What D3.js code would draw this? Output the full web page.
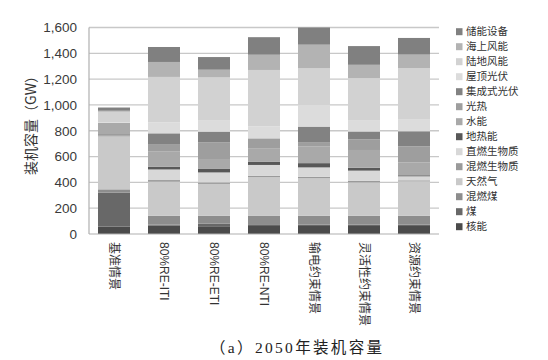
<!DOCTYPE html>
<html><head><meta charset="utf-8">
<script src="https://cdn.jsdelivr.net/npm/d3@7"></script>
<style>
html,body{margin:0;padding:0;background:#fff;}
svg{display:block;}
</style></head>
<body>
<svg id="c" width="548" height="360"></svg>
<script>
// ---- data ----
const categories = ["基准情景","80%RE-ITI","80%RE-ETI","80%RE-NTI","输电约束情景","灵活性约束情景","资源约束情景"];
const seriesNames = ["核能","煤","混燃煤","天然气","混燃生物质","直燃生物质","地热能","水能","光热","集成式光伏","屋顶光伏","陆地风能","海上风能","储能设备"];
const nuclear      = [57, 65, 60, 62, 62, 62, 62];
const coal         = [263, 8, 20, 8, 10, 10, 10];
const cofireCoal   = [26, 69, 62, 70, 70, 70, 70];
const gas          = [410, 263, 246, 300, 290, 258, 266];
const cofireBio    = [5, 13, 12, 10, 12, 13, 8];
const directBio    = [3, 82, 77, 85, 72, 78, 31];
const geothermal   = [8, 22, 27, 26, 33, 23, 8];
const hydro        = [90, 116, 77, 100, 128, 137, 100];
const csp          = [0, 59, 128, 80, 31, 83, 124];
const bipv         = [0, 83, 84, 0, 124, 60, 117];
const rooftopPV    = [5, 85, 90, 93, 168, 84, 90];
const onshoreWind  = [80, 352, 330, 437, 284, 330, 400];
const offshoreWind = [8, 116, 60, 118, 183, 103, 104];
const storage      = [25, 116, 98, 136, 133, 145, 129];
const yTicks = [0, 200, 400, 600, 800, 1000, 1200, 1400, 1600];
const yTitle = "装机容量（GW）";
const caption = "（a）2050年装机容量";

const seriesValues = [nuclear, coal, cofireCoal, gas, cofireBio, directBio, geothermal, hydro, csp, bipv, rooftopPV, onshoreWind, offshoreWind, storage];
const colors = ["#4b4b4b","#686868","#8d8d8d","#c9c9c9","#9a9a9a","#d8d8d8","#585858","#a9a9a9","#9e9e9e","#828282","#dcdcdc","#d2d2d2","#b3b3b3","#808080"];

// ---- build table ----
const table = categories.map((c, i) => {
  const row = {cat: c};
  seriesNames.forEach((s, j) => row[s] = seriesValues[j][i]);
  return row;
});
const stacked = d3.stack().keys(seriesNames)(table);

const svg = d3.select("#c");
const pL = 89, pR = 439, pT = 27.5, pB = 234;
const x = d3.scaleBand().domain(categories).range([pL, pR]).paddingInner(0.36).paddingOuter(0.18);
const y = d3.scaleLinear().domain([0, 1600]).range([pB, pT]);
const color = d3.scaleOrdinal().domain(seriesNames).range(colors);

const latin = "'Liberation Sans', Arial, 'Noto Sans CJK SC', sans-serif";

// gridlines
svg.append("g").selectAll("line").data(yTicks.filter(d => d > 0)).join("line")
  .attr("x1", pL).attr("x2", pR)
  .attr("y1", d => y(d)).attr("y2", d => y(d))
  .attr("stroke", "#c8c8c8").attr("stroke-width", 1.3);

// bars
svg.append("g").selectAll("g").data(stacked).join("g")
  .attr("fill", d => color(d.key))
  .selectAll("rect").data(d => d).join("rect")
  .attr("x", d => x(d.data.cat))
  .attr("width", x.bandwidth())
  .attr("y", d => y(d[1]))
  .attr("height", d => Math.max(0, y(d[0]) - y(d[1])));

// axes frame
svg.append("line").attr("x1", pL).attr("x2", pL).attr("y1", pT).attr("y2", pB)
  .attr("stroke", "#b0b0b0").attr("stroke-width", 1.2);
svg.append("line").attr("x1", pL).attr("x2", pR).attr("y1", pB).attr("y2", pB)
  .attr("stroke", "#b0b0b0").attr("stroke-width", 1.2);

// y axis labels
const yAxis = d3.axisLeft(y).tickValues(yTicks).tickFormat(d3.format(",")).tickSize(0).tickPadding(12);
const gy = svg.append("g").attr("transform", `translate(${pL},0)`).call(yAxis);
gy.select(".domain").remove();
gy.selectAll("text").attr("font-family", latin).attr("font-size", 13.5).attr("fill", "#3a3a3a");

// x axis labels (rotated)
const xAxis = d3.axisBottom(x).tickSize(0).tickPadding(0);
const gx = svg.append("g").attr("transform", `translate(0,${pB})`).call(xAxis);
gx.select(".domain").remove();
gx.selectAll("text")
  .attr("font-family", latin).attr("font-size", 12).attr("fill", "#333")
  .attr("text-anchor", "start").attr("dy", "0.35em")
  .attr("transform", "translate(0,8) rotate(90)")
  .attr("x", 0).attr("y", 0);

// y title
svg.append("text").attr("transform", "translate(31,122) rotate(-90)")
  .attr("text-anchor", "middle").attr("dy", "0.35em")
  .attr("font-family", "'Noto Sans CJK SC', sans-serif").attr("font-size", 14).attr("fill", "#333")
  .text(yTitle);

// legend (top = 储能设备)
const legendItems = seriesNames.slice().reverse();
const lg = svg.append("g").selectAll("g").data(legendItems).join("g")
  .attr("transform", (d, i) => `translate(456,${31.7 + i * 15})`);
lg.append("rect").attr("x", 0).attr("y", -3.5).attr("width", 6.5).attr("height", 7).attr("fill", d => color(d));
lg.append("text").attr("x", 10).attr("dy", "0.35em")
  .attr("font-family", "'Noto Sans CJK SC', sans-serif").attr("font-size", 10.5).attr("fill", "#333")
  .text(d => d);

// caption
svg.append("text").attr("x", 296).attr("y", 348).attr("text-anchor", "middle").attr("dy", "0.35em")
  .attr("font-family", "'Liberation Serif', 'DejaVu Serif', 'Noto Sans CJK SC', serif").attr("font-size", 15.5).attr("fill", "#222")
  .attr("textLength", 172).attr("lengthAdjust", "spacing")
  .text(caption);
</script>
</body></html>
